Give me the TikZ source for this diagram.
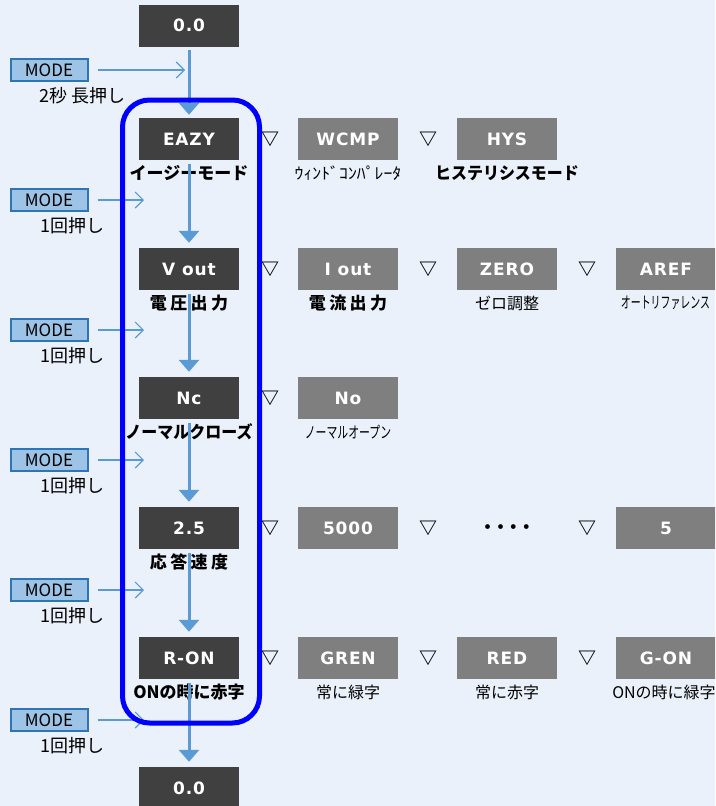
\documentclass[tikz,border=0pt]{standalone}
\usepackage{fontspec}
\setmainfont{Noto Sans CJK JP}
\newfontfamily\boxfont{DejaVu Sans}
\usetikzlibrary{arrows.meta}
\definecolor{bg}{HTML}{EAF1FA}
\definecolor{dark}{HTML}{404040}
\definecolor{grayb}{HTML}{7F7F7F}
\definecolor{arr}{HTML}{5B9BD5}
\definecolor{modefill}{HTML}{9DC3E6}
\definecolor{modeline}{HTML}{2E75B6}
\definecolor{frameblue}{HTML}{0000FF}
\newcommand{\nx}[2]{\scalebox{#1}[1]{#2}}
\begin{document}
\begin{tikzpicture}[x=1pt,y=-1pt,
 dbox/.style={fill=dark, text=white, minimum width=100pt, minimum height=42pt, inner sep=0pt, font=\boxfont\bfseries\fontsize{17}{17}\selectfont\addfontfeature{LetterSpace=5}},
 gbox/.style={dbox, fill=grayb},
 blab/.style={inner sep=0pt, font=\bfseries\fontsize{17}{17}\selectfont},
 klab/.style={inner sep=0pt, font=\bfseries\fontsize{17}{17}\selectfont\addfontfeature{LetterSpace=20}},
 slab/.style={inner sep=0pt, font=\fontsize{16}{16}\selectfont},
 tri/.style={inner sep=0pt, font=\bfseries\fontsize{18}{18}\selectfont},
 dots/.style={inner sep=0pt, font=\bfseries\fontsize{17}{17}\selectfont\addfontfeature{LetterSpace=-24}},
 modebox/.style={fill=modefill, draw=modeline, line width=2pt, minimum width=77pt, minimum height=22pt, inner sep=0pt, font=\fontsize{17}{17}\selectfont},
 modelab/.style={anchor=west, inner sep=0pt, font=\fontsize{18}{18}\selectfont},
 mainarr/.style={draw=arr, line width=3pt, shorten <=4pt, shorten >=5pt, -{Triangle[length=12pt,width=20pt]}},
 modearr/.style={draw=arr, line width=1.2pt, shorten <=9pt, -{Straight Barb[length=8pt,width=16pt]}},
]
\fill[bg] (0,0) rectangle (715,806);
\useasboundingbox (0,0) rectangle (715,806);
\clip (0,0) rectangle (715,806);

% main column
\node[dbox] (top) at (189,25.5) {0.0};
\node[dbox] (eazy) at (189,139) {EAZY};
\node[dbox] (vout) at (189,269) {V out};
\node[dbox] (nc) at (189,398) {Nc};
\node[dbox] (resp) at (189,528) {2.5};
\node[dbox] (ron) at (189,658) {R-ON};
\node[dbox] (bot) at (189,788) {0.0};

\node[blab] (eazyl) at (189,173) {イージーモード};
\node[klab] (voutl) at (189,303) {電圧出力};
\node[blab] (ncl) at (189,432) {\nx{0.94}{ノーマルクローズ}};
\node[klab] (respl) at (189,562) {応答速度};
\node[blab] (ronl) at (189,692) {ONの時に赤字};

% row EAZY
\node[tri] (t11) at (270,139) {▽};
\node[gbox] (wcmp) at (348,139) {WCMP};
\node[slab] (wcmpl) at (348,173) {\nx{1.11}{ｳｨﾝﾄﾞｺﾝﾊﾟﾚｰﾀ}};
\node[tri] (t12) at (428,139) {▽};
\node[gbox] (hys) at (507,139) {HYS};
\node[blab] (hysl) at (507,173) {\nx{0.94}{ヒステリシスモード}};

% row V out
\node[tri] (t21) at (270,269) {▽};
\node[gbox] (iout) at (348,269) {I out};
\node[klab] (ioutl) at (348,303) {電流出力};
\node[tri] (t22) at (428,269) {▽};
\node[gbox] (zero) at (507,269) {ZERO};
\node[slab] (zerol) at (507,303) {ゼロ調整};
\node[tri] (t23) at (587,269) {▽};
\node[gbox] (aref) at (666,269) {AREF};
\node[slab] (arefl) at (665.5,303) {\nx{0.62}{オートリファレンス}};

% row Nc
\node[tri] (t31) at (270,398) {▽};
\node[gbox] (no) at (348,398) {No};
\node[slab] (nol) at (348,432) {\nx{0.68}{ノーマルオープン}};

% row 2.5
\node[tri] (t41) at (270,528) {▽};
\node[gbox] (r5000) at (348,528) {5000};
\node[tri] (t42) at (428,528) {▽};
\node[dots] (dd) at (507,529) {・・・・};
\node[tri] (t43) at (587,528) {▽};
\node[gbox] (r5) at (666,528) {5};

% row R-ON
\node[tri] (t51) at (270,658) {▽};
\node[gbox] (gren) at (348,658) {GREN};
\node[slab] (grenl) at (348,692) {常に緑字};
\node[tri] (t52) at (428,658) {▽};
\node[gbox] (red) at (507,658) {RED};
\node[slab] (redl) at (507,692) {常に赤字};
\node[tri] (t53) at (587,658) {▽};
\node[gbox] (gon) at (666,658) {G-ON};
\node[slab] (gonl) at (664,692) {ONの時に緑字};

% MODE buttons
\node[modebox] (m1) at (49,70) {MODE};
\node[modebox] (m2) at (49,200) {MODE};
\node[modebox] (m3) at (49,330) {MODE};
\node[modebox] (m4) at (49,460) {MODE};
\node[modebox] (m5) at (49,590) {MODE};
\node[modebox] (m6) at (49,720) {MODE};
\node[modelab] (m1l) at (39,96) {2秒 長押し};
\node[modelab] (m2l) at (40,226) {1回押し};
\node[modelab] (m3l) at (40,356) {1回押し};
\node[modelab] (m4l) at (40,486) {1回押し};
\node[modelab] (m5l) at (40,616) {1回押し};
\node[modelab] (m6l) at (40,746) {1回押し};
\coordinate (e1) at (185,70);
\coordinate (e2) at (144,200);
\coordinate (e3) at (144,330);
\coordinate (e4) at (144,460);
\coordinate (e5) at (144,590);
\coordinate (e6) at (144,720);
\foreach \i in {1,...,6} \draw[modearr] (m\i) -- (e\i);

% main arrows
\draw[mainarr, shorten <=3pt, shorten >=3pt] (top) -- (eazy);
\draw[mainarr] (eazy) -- (vout);
\draw[mainarr] (vout) -- (nc);
\draw[mainarr] (nc) -- (resp);
\draw[mainarr] (resp) -- (ron);
\draw[mainarr] (ron) -- (bot);

% frame
\draw[frameblue, line width=5pt, rounded corners=27pt] (122.5,100) rectangle (259.5,723);
\end{tikzpicture}
\end{document}
